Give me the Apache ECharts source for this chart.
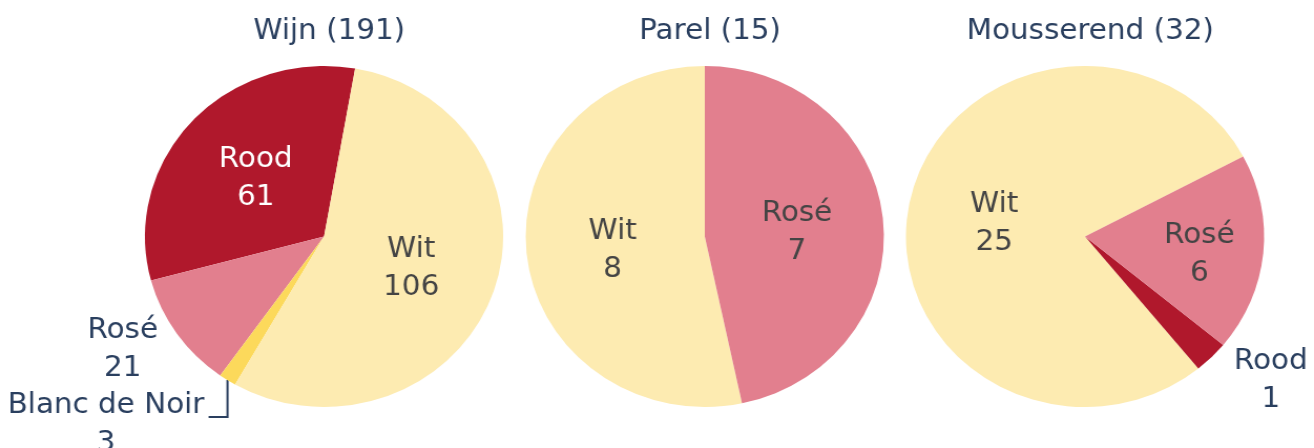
<!DOCTYPE html>
<html><head><meta charset="utf-8">
<script src="https://cdn.jsdelivr.net/npm/echarts@6/dist/echarts.min.js"></script>
<style>
html,body{margin:0;padding:0;background:#fff;overflow:hidden;width:1314px;height:448px}
#c{height:448px;transform-origin:0 0;}
</style></head><body><div id="c"></div>
<script>
// ---- data ----
const titles = ['Wijn (191)', 'Parel (15)', 'Mousserend (32)'];
const wijnCategories = ['Rood', 'Rosé', 'Blanc de Noir', 'Wit'];
const wijnValues = [61, 21, 3, 106];
const parelCategories = ['Wit', 'Rosé'];
const parelValues = [8, 7];
const mousserendCategories = ['Wit', 'Rood', 'Rosé'];
const mousserendValues = [25, 1, 6];

// ---- styling / layout ----
const FONT = 'DejaVu Sans';
const FS = 28;
const sliceColors = { 'Wit': '#fdebb1', 'Rosé': '#e27f8e', 'Rood': '#b0182c', 'Blanc de Noir': '#fcd95b' };
const wijnLabelStyle = [
  { pos: 'inside', dy: 2 },
  { pos: 'outside', len: 22, len2: 0, dist: 0, dy: 3 },
  { pos: 'outside', len: 20, len2: 10, dist: 4, line: true, elbow: true },
  { pos: 'inside', dy: 2 }
];
const parelLabelStyle = [{ pos: 'inside', dy: 5 }, { pos: 'inside', dy: 5 }];
const mousserendLabelStyle = [
  { pos: 'inside', dy: 5 },
  { pos: 'outside', len: 29, len2: 0, dist: 1, dy: 3 },
  { pos: 'inside', dx: 21, dy: 9 }
];

const W = 1314, H = 448;
const W0 = Math.round(W / 1.05);
const el = document.getElementById('c');
el.style.width = W0 + 'px';
el.style.transform = 'scaleX(' + (W / W0) + ')';

const centersX = [308.5, 671, 1033];
const centerY = 236.5;
const radius = 170.5;
const startAngles = [80, 90, 28];

function tok(color) {
  return { color: color, fontSize: FS, fontFamily: FONT, lineHeight: 38, align: 'center' };
}
const rich = { w: tok('#ffffff'), d: tok('#444444'), o: tok('#2a3f5f') };

function buildData(cats, vals, styles) {
  return cats.map(function (name, i) {
    const s = styles[i];
    const inside = s.pos === 'inside';
    const key = inside ? (name === 'Rood' ? 'w' : 'd') : 'o';
    return {
      name: name,
      value: vals[i],
      itemStyle: { color: sliceColors[name] },
      label: {
        position: inside ? 'inside' : 'outside',
        formatter: '{' + key + '|{b}}\n{' + key + '|{c}}',
        distanceToLabelLine: s.dist != null ? s.dist : 5
      },
      labelLine: {
        show: !!s.line,
        length: s.len != null ? s.len : 10,
        length2: s.len2 != null ? s.len2 : 10,
        lineStyle: { color: '#2a3f5f', width: 2 }
      }
    };
  });
}

function makeLayout(styles) {
  return function (p) {
    const s = styles[p.dataIndex] || {};
    if (s.elbow && p.labelLinePoints) {
      const x0 = p.labelLinePoints[0][0], y0 = p.labelLinePoints[0][1];
      return {
        labelLinePoints: [[x0, y0], [x0, y0 + 37], [x0 - 18, y0 + 37]],
        x: x0 - 22, y: y0 + 45, align: 'right', verticalAlign: 'middle'
      };
    }
    return { dx: s.dx || 0, dy: s.dy || 0 };
  };
}

function pieSeries(i, cats, vals, styles) {
  return {
    type: 'pie',
    center: [centersX[i], centerY],
    radius: radius,
    startAngle: startAngles[i],
    clockwise: false,
    avoidLabelOverlap: false,
    animation: false,
    emphasis: { disabled: true },
    itemStyle: { borderWidth: 0 },
    label: { show: true, rich: rich, fontFamily: FONT, fontSize: FS },
    labelLayout: makeLayout(styles),
    data: buildData(cats, vals, styles)
  };
}

const option = {
  backgroundColor: '#ffffff',
  title: titles.map(function (t, i) {
    return {
      text: t, left: centersX[i], top: 13, textAlign: 'center',
      textStyle: { fontFamily: FONT, fontSize: FS, fontWeight: 'normal', color: '#2a3f5f' }
    };
  }),
  series: [
    pieSeries(0, wijnCategories, wijnValues, wijnLabelStyle),
    pieSeries(1, parelCategories, parelValues, parelLabelStyle),
    pieSeries(2, mousserendCategories, mousserendValues, mousserendLabelStyle)
  ]
};

const chart = echarts.init(el, null, { renderer: 'canvas', width: W0, height: H });
chart.setOption(option);
</script></body></html>
